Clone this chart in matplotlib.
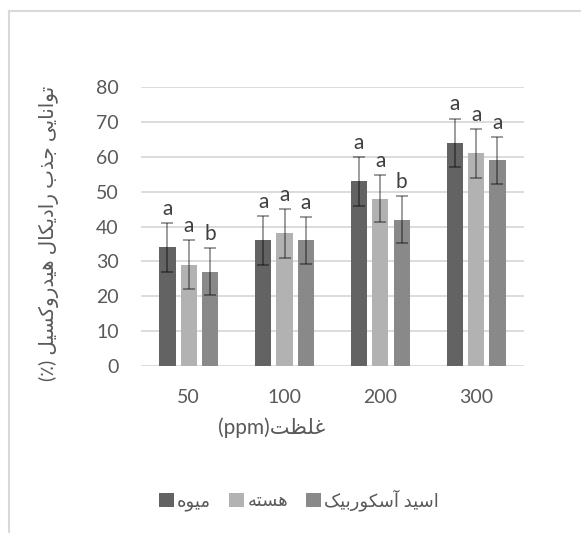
import matplotlib
matplotlib.use("Agg")
import matplotlib.pyplot as plt
from matplotlib.patches import Patch
from matplotlib.lines import Line2D
import numpy as np

# ---------------- data ----------------
categories = ["50", "100", "200", "300"]
series_names = ["میوه", "هسته", "اسید آسکوربیک"]
fruit = [34, 36, 53, 64]
seed = [29, 38, 48, 61]
ascorbic = [27, 36, 42, 59]
fruit_err = [7, 7, 7, 7]
seed_err = [7, 7, 6.8, 7]
ascorbic_err = [6.8, 6.7, 6.8, 6.8]
fruit_letters = ["a", "a", "a", "a"]
seed_letters = ["a", "a", "a", "a"]
ascorbic_letters = ["b", "a", "b", "a"]
y_label = "توانایی جذب رادیکال هیدروکسیل (٪)"
x_label = "غلظت(ppm)"

# ---------------- simple Arabic/Persian shaping (presentation forms) ----------------
FORMS = {
    '\u0622': ('\uFE81', '\uFE82', None, None),
    '\u0627': ('\uFE8D', '\uFE8E', None, None),
    '\u0628': ('\uFE8F', '\uFE90', '\uFE91', '\uFE92'),
    '\u062A': ('\uFE95', '\uFE96', '\uFE97', '\uFE98'),
    '\u062C': ('\uFE9D', '\uFE9E', '\uFE9F', '\uFEA0'),
    '\u062F': ('\uFEA9', '\uFEAA', None, None),
    '\u0630': ('\uFEAB', '\uFEAC', None, None),
    '\u0631': ('\uFEAD', '\uFEAE', None, None),
    '\u0633': ('\uFEB1', '\uFEB2', '\uFEB3', '\uFEB4'),
    '\u0638': ('\uFEC5', '\uFEC6', '\uFEC7', '\uFEC8'),
    '\u063A': ('\uFECD', '\uFECE', '\uFECF', '\uFED0'),
    '\u0644': ('\uFEDD', '\uFEDE', '\uFEDF', '\uFEE0'),
    '\u0645': ('\uFEE1', '\uFEE2', '\uFEE3', '\uFEE4'),
    '\u0646': ('\uFEE5', '\uFEE6', '\uFEE7', '\uFEE8'),
    '\u0647': ('\uFEE9', '\uFEEA', '\uFEEB', '\uFEEC'),
    '\u0648': ('\uFEED', '\uFEEE', None, None),
    '\u06A9': ('\uFB8E', '\uFB8F', '\uFB90', '\uFB91'),
    '\u06CC': ('\uFBFC', '\uFBFD', '\uFBFE', '\uFBFF'),
}
MIRROR = {'(': ')', ')': '('}


def shape(s):
    out = []
    n = len(s)
    for i, c in enumerate(s):
        if c not in FORMS:
            out.append(c)
            continue
        f = FORMS[c]
        prev = s[i - 1] if i > 0 else None
        nxt = s[i + 1] if i < n - 1 else None
        jp = prev in FORMS and FORMS[prev][2] is not None
        jn = f[2] is not None and nxt in FORMS
        if jp and jn:
            g = f[3]
        elif jp:
            g = f[1]
        elif jn:
            g = f[2]
        else:
            g = f[0]
        out.append(g)
    return ''.join(out)


def visual(s):
    sh = shape(s)
    runs = []
    for c in sh:
        ltr = c.isascii() and c.isalnum()
        if runs and runs[-1][0] == ltr:
            runs[-1][1].append(c)
        else:
            runs.append([ltr, [c]])
    res = []
    for ltr, chars in reversed(runs):
        if ltr:
            res.append(''.join(chars))
        else:
            res.append(''.join(MIRROR.get(c, c) for c in reversed(chars)))
    return ''.join(res)


# ---------------- figure ----------------
plt.rcParams['font.family'] = ['Lato', 'DejaVu Sans']
W, H = 581, 533
fig = plt.figure(figsize=(W / 100, H / 100), dpi=100)
fig.patch.set_facecolor('white')

ax = fig.add_axes([140.9 / W, 167.3 / H, 383.1 / W, 278.4 / H])

colors = ['#636363', '#b2b2b2', '#898989']
values = [fruit, seed, ascorbic]
errs = [fruit_err, seed_err, ascorbic_err]
letters = [fruit_letters, seed_letters, ascorbic_letters]

x = np.arange(len(categories))
pitch = 0.2225
width = 0.17
for i in range(3):
    xs = x + (i - 1) * pitch
    ax.bar(xs, values[i], width=width, color=colors[i], zorder=2)
    eb = ax.errorbar(xs, values[i], yerr=errs[i], fmt='none', ecolor=(0, 0, 0, 0.45),
                     elinewidth=1.2, capsize=4.3, capthick=1.2, zorder=3)
    for cl in eb[1]:
        cl.set_color((0, 0, 0, 0.62))
    for xx, v, e, lt in zip(xs, values[i], errs[i], letters[i]):
        ax.annotate(lt, (xx, v + e), xytext=(0, 3), textcoords='offset points',
                    ha='center', va='bottom', fontsize=15, color='#404040')

ax.set_xlim(-0.5, 3.5)
ax.set_ylim(0, 80)
ax.set_yticks(range(0, 81, 10))
ax.set_xticks(x)
ax.set_xticklabels(categories)
ax.yaxis.grid(True, color='#d9d9d9', lw=1.3, zorder=0)
ax.set_axisbelow(True)
for sp in ax.spines.values():
    sp.set_visible(False)
ax.tick_params(axis='both', length=0, labelsize=14, labelcolor='#595959')
ax.tick_params(axis='y', pad=16)
ax.tick_params(axis='x', pad=17)

# axis titles
fig.text(271.5 / W, 1 - 428 / H, visual(x_label), ha='center', va='center',
         fontsize=15, color='#595959', family=['Lato', 'DejaVu Sans'])
fig.text(49 / W, 1 - 233 / H, visual(y_label), ha='center', va='center', rotation=90,
         fontsize=14.3, color='#595959', family=['Lato', 'DejaVu Sans'])

# legend
handles = [Patch(facecolor=c, edgecolor='none') for c in colors]
leg = fig.legend(handles, [visual(s) for s in series_names], loc='center',
                 bbox_to_anchor=(299 / W, 1 - 500 / H), ncol=3, frameon=False,
                 fontsize=13, handlelength=0.8, handleheight=0.8,
                 handletextpad=0.2, columnspacing=1.0, labelcolor='#595959')

# chart border (cropped)
fig.add_artist(Line2D([8.5 / W, 1], [1 - 10.5 / H, 1 - 10.5 / H], color='#d9d9d9', lw=1.5))
fig.add_artist(Line2D([9 / W, 9 / W], [0, 1 - 10.5 / H], color='#d9d9d9', lw=1.5))

fig.savefig('out.png', dpi=100, facecolor='white')
